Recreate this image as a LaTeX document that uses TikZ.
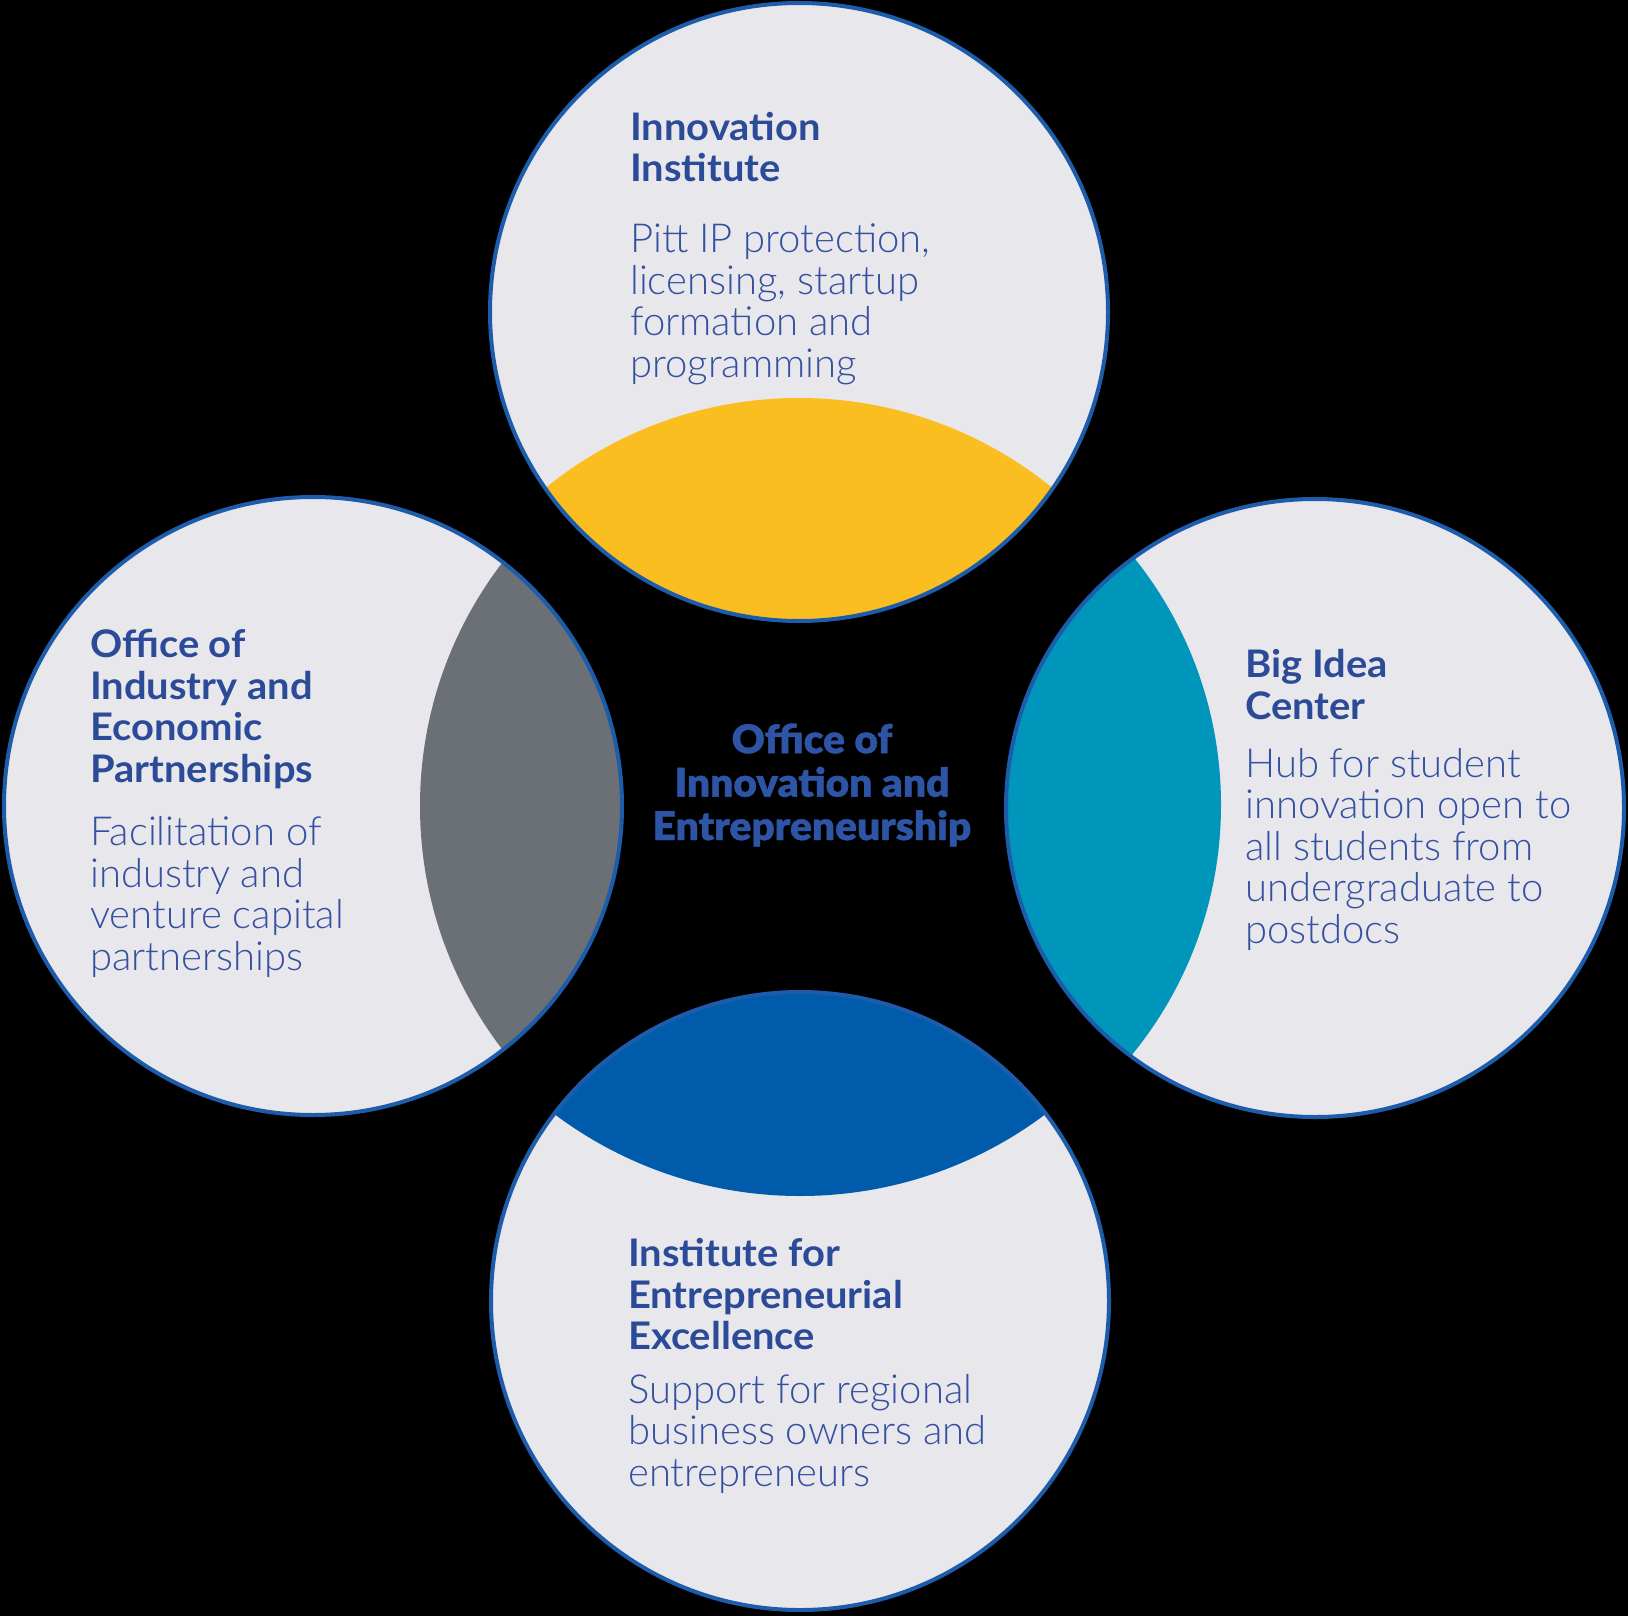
\documentclass[tikz,border=0pt]{standalone}
\usepackage{fontspec}
\IfFontExistsTF{Lato Light}{\newfontfamily\bodyfont{Lato Light}}{\newfontfamily\bodyfont{Liberation Sans}}
\IfFontExistsTF{Lato Bold}{\newfontfamily\titlefont{Lato Bold}[FakeStretch=1.05]}{\newfontfamily\titlefont{Liberation Sans Bold}}
\IfFontExistsTF{Lato Black}{\newfontfamily\heavyfont{Lato Black}[FakeStretch=1.03,FakeBold=1]}{%
  \IfFontExistsTF{Lato Heavy}{\newfontfamily\heavyfont{Lato Heavy}[FakeStretch=1.03,FakeBold=1.5]}{%
    \newfontfamily\heavyfont{Lato Bold}[FakeStretch=1.03,FakeBold=2.5]}}
\definecolor{circfill}{RGB}{232,232,236}
\definecolor{ringblue}{RGB}{28,92,170}
\definecolor{lensyellow}{RGB}{251,190,32}
\definecolor{lensgrey}{RGB}{107,111,118}
\definecolor{lenscyan}{RGB}{0,150,187}
\definecolor{lensblue}{RGB}{0,91,170}
\definecolor{titleblue}{RGB}{43,74,152}
\definecolor{bodyblue}{RGB}{53,80,160}
\definecolor{centerblue}{RGB}{46,84,166}
\tikzset{
  disc/.style={circle, minimum size=618pt, inner sep=0pt, fill=circfill},
  ring/.style={draw=ringblue, line width=4pt},
  titletext/.style={anchor=base west, inner sep=0pt, align=left, text=titleblue,
    font=\titlefont\fontsize{38}{41.5}\selectfont},
  bodytext/.style={anchor=base west, inner sep=0pt, align=left, text=bodyblue,
    font=\bodyfont\fontsize{40}{41.5}\selectfont},
  centertext/.style={anchor=base, inner sep=0pt, align=center, text=centerblue,
    font=\heavyfont\fontsize{39.5}{43.4}\selectfont}
}
\begin{document}
\begin{tikzpicture}[x=1pt,y=-1pt]
\useasboundingbox (0,0) rectangle (1628,1616);
\fill[black] (0,0) rectangle (1628,1616);
% discs
\node[disc] (T) at (799,312) {};
\node[disc] (L) at (313,806) {};
\node[disc] (R) at (1315,808) {};
\node[disc] (B) at (800,1301) {};
% lenses
\begin{scope}
  \clip (T.center) circle (309pt);
  \fill[lensyellow] (799,800) circle (402pt);
\end{scope}
\begin{scope}
  \clip (L.center) circle (309pt);
  \fill[lensgrey] (821,806) circle (401pt);
\end{scope}
\begin{scope}
  \clip (R.center) circle (309pt);
  \fill[lenscyan] (826,805) circle (395pt);
\end{scope}
\begin{scope}
  \clip (B.center) circle (309pt);
  \fill[lensblue] (800,787) circle (409pt);
\end{scope}
% rings
\draw[ring] (T.center) circle (309pt);
\draw[ring] (L.center) circle (309pt);
\draw[ring] (R.center) circle (309pt);
\draw[ring] (B.center) circle (309pt);
% texts (anchored at the baseline of their last line)
\node[titletext] (Tt) at (630,181.8) {Innovation\\Institute};
\node[bodytext] (Tb) at (630,377) {Pitt IP protection,\\licensing, startup\\formation and\\programming};
\node[titletext] (Lt) at (90,782.2) {Office of\\Industry and\\Economic\\Partnerships};
\node[bodytext] (Lb) at (90,970.3) {Facilitation of\\industry and\\venture capital\\partnerships};
\node[titletext] (Rt) at (1245,719) {Big Idea\\Center};
\node[bodytext] (Rb) at (1245,943) {Hub for student\\innovation open to\\all students from\\undergraduate to\\postdocs};
\node[titletext] (Bt) at (628,1349.5) {Institute for\\Entrepreneurial\\Excellence};
\node[bodytext] (Bb) at (628,1486) {Support for regional\\business owners and\\entrepreneurs};
\node[centertext] (C) at (812,840) {Office of\\Innovation and\\Entrepreneurship};
\end{tikzpicture}
\end{document}
